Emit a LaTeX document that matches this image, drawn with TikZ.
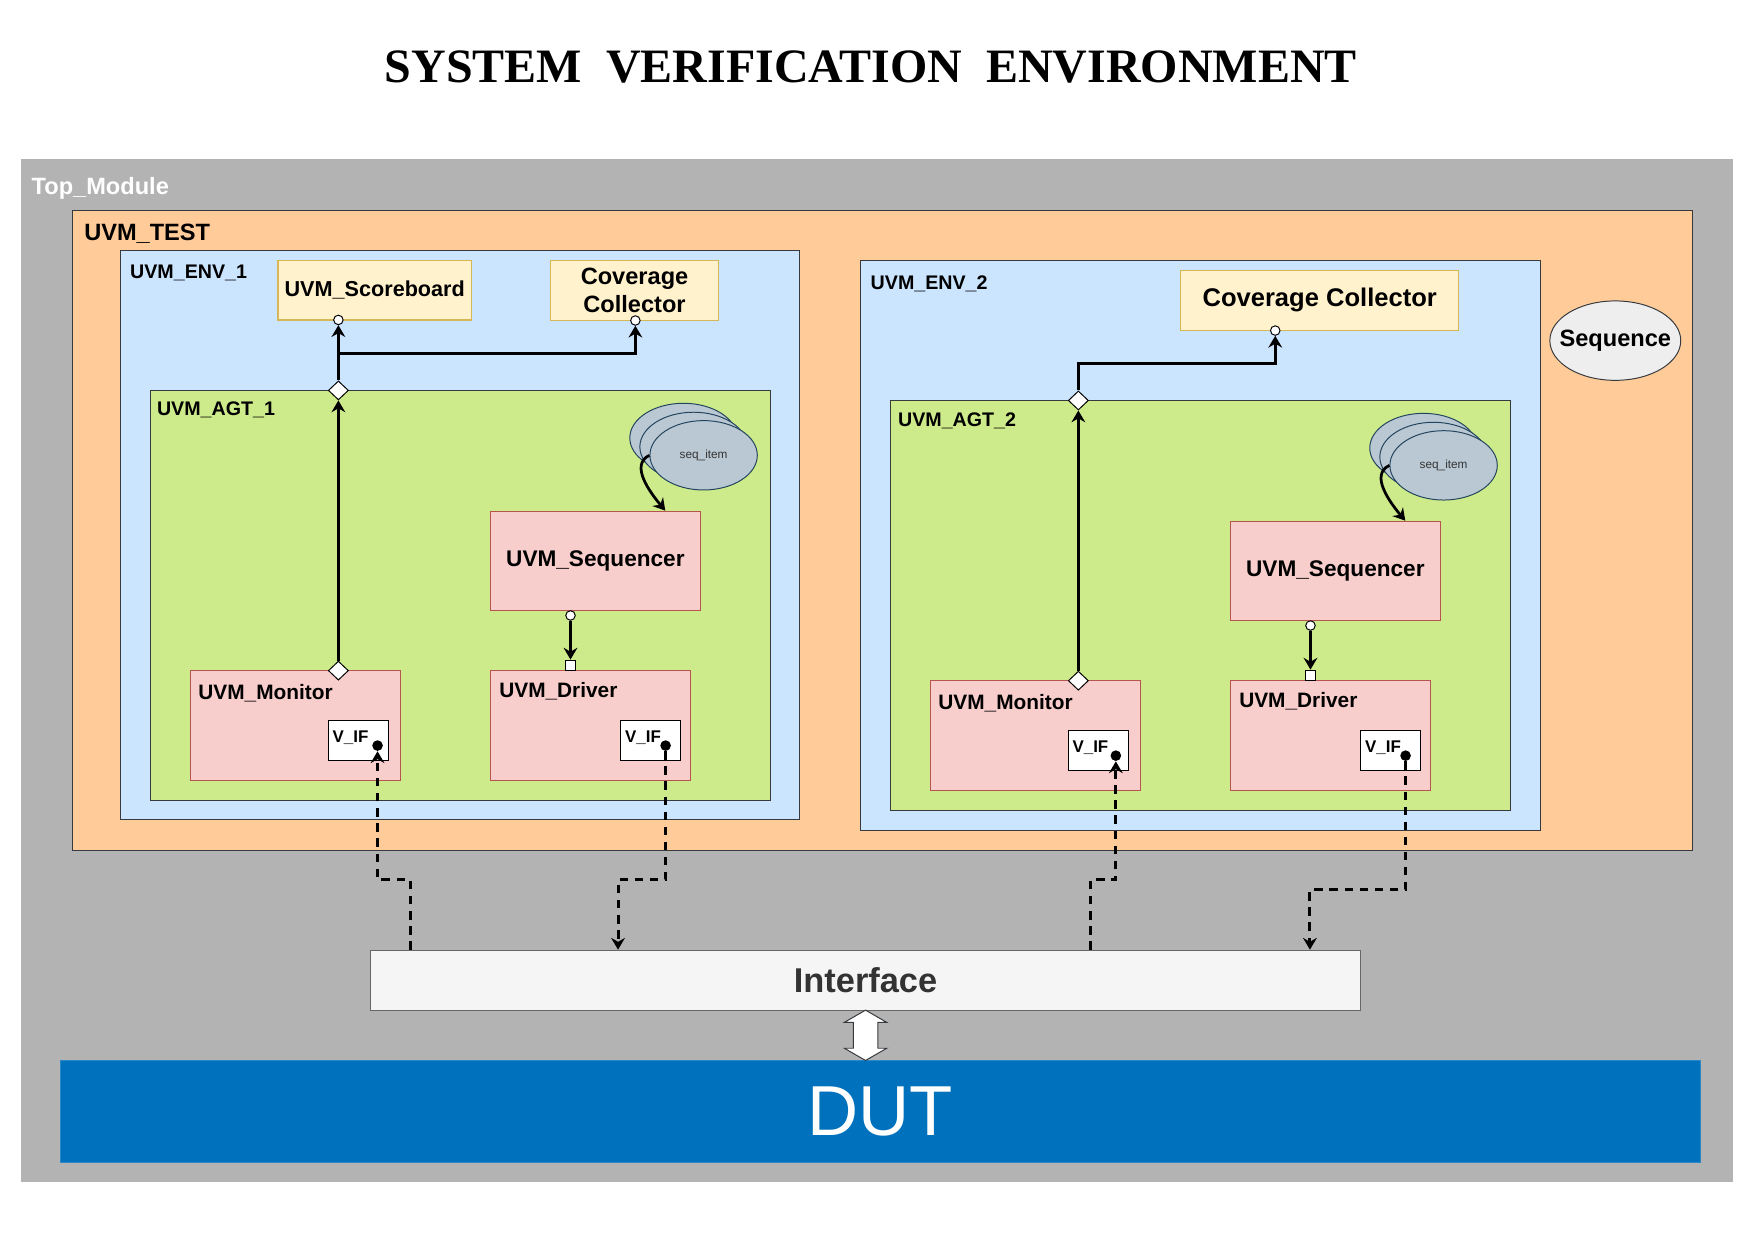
\documentclass[tikz,border=0pt]{standalone}
\usepackage{fontspec}
\setmainfont{Liberation Sans}
\newfontfamily\titlefont{Liberation Serif}
\usepackage{xcolor}
\usepackage{tikz}
\definecolor{topgray}{HTML}{B3B3B3}
\definecolor{testorange}{HTML}{FFCC99}
\definecolor{envblue}{HTML}{CCE5FF}
\definecolor{agtgreen}{HTML}{CDEB8B}
\definecolor{compfill}{HTML}{FFF2CC}
\definecolor{compline}{HTML}{D6B656}
\definecolor{uvmfill}{HTML}{F8CECC}
\definecolor{uvmline}{HTML}{B85450}
\definecolor{itemfill}{HTML}{BAC8D3}
\definecolor{itemline}{HTML}{23445D}
\definecolor{seqfill}{HTML}{EEEEEE}
\definecolor{frameline}{HTML}{36393D}
\definecolor{itffill}{HTML}{F5F5F5}
\definecolor{itfline}{HTML}{666666}
\definecolor{itftext}{HTML}{333333}
\definecolor{dutblue}{HTML}{0071BC}
\definecolor{dutline}{HTML}{2A88C8}
\usetikzlibrary{shapes.geometric, shapes.arrows, arrows.meta, calc}

\begin{document}
\begin{tikzpicture}[
    cont/.style={rectangle, draw=frameline, line width=0.5pt},
    comp/.style={rectangle, draw=compline, fill=compfill, line width=0.6pt, align=center, font=\bfseries\fontsize{11}{14}\selectfont},
    uvmbox/.style={rectangle, draw=uvmline, fill=uvmfill, line width=0.6pt, align=center},
    lbl/.style={anchor=west, inner sep=0pt, font=\bfseries\fontsize{10}{12}\selectfont},
    item/.style={ellipse, draw=itemline, fill=itemfill, line width=0.5pt, minimum width=1.92cm, minimum height=1.24cm},
    vif/.style={rectangle, draw=black, fill=white, line width=0.5pt, minimum width=1.08cm, minimum height=0.72cm},
    port/.style={circle, draw=black, fill=white, line width=0.5pt, inner sep=0pt, minimum size=0.17cm},
    vdot/.style={circle, fill=black, inner sep=0pt, minimum size=0.19cm},
    joint/.style={diamond, draw=black, fill=white, line width=0.5pt, inner sep=0pt, minimum width=0.36cm, minimum height=0.34cm},
    sq/.style={rectangle, draw=black, fill=white, line width=0.5pt, inner sep=0pt, minimum size=0.18cm},
    arrow/.style={-{Stealth[length=6pt, width=7pt, inset=2pt]}, line width=1.5pt},
    ifline/.style={-{Stealth[length=6pt, width=7pt, inset=2pt]}, line width=1.5pt, dash pattern=on 0.15cm off 0.12cm}
]
    \useasboundingbox (0,0) rectangle (31.36,-22.16);

    \node[font=\titlefont\bfseries\fontsize{24.4}{28}\selectfont] (title) at (15.57,-1.19) {SYSTEM\ \ VERIFICATION\ \ ENVIRONMENT};

    % containers
    \node[cont, draw=topgray, fill=topgray, minimum width=30.60cm, minimum height=18.26cm] (top) at (15.68,-11.99) {};
    \node[lbl, text=white, font=\bfseries\fontsize{12}{14}\selectfont] (toplbl) at (0.56,-3.37) {Top\_Module};
    \node[cont, fill=testorange, minimum width=28.96cm, minimum height=11.44cm] (test) at (15.78,-9.48) {};
    \node[lbl, font=\bfseries\fontsize{12}{14}\selectfont] (testlbl) at (1.50,-4.18) {UVM\_TEST};

    % environment 1
    \node[cont, fill=envblue, minimum width=12.14cm, minimum height=10.18cm] (env1) at (8.23,-9.57) {};
    \node[lbl] (env1lbl) at (2.32,-4.88) {UVM\_ENV\_1};
    \node[comp, minimum width=3.40cm, minimum height=1.06cm] (sb) at (6.70,-5.19) {UVM\_Scoreboard};
    \node[comp, minimum width=3.01cm, minimum height=1.07cm, font=\bfseries\fontsize{12}{14.5}\selectfont] (cov1) at (11.345,-5.195) {Coverage\\Collector};
    \node[cont, fill=agtgreen, minimum width=11.09cm, minimum height=7.33cm] (agt1) at (8.235,-10.645) {};
    \node[lbl] (agt1lbl) at (2.80,-7.32) {UVM\_AGT\_1};
    \node[item] (it1a) at (12.22,-7.83) {};
    \node[item] (it1b) at (12.40,-7.99) {};
    \node[item, text=itftext, font=\fontsize{6}{7}\selectfont] (it1) at (12.58,-8.14) {seq\_item};
    \node[uvmbox, minimum width=3.75cm, minimum height=1.77cm, font=\bfseries\fontsize{11.5}{14}\selectfont] (seqr1) at (10.645,-10.025) {UVM\_Sequencer};
    \node[uvmbox, minimum width=3.76cm, minimum height=1.97cm] (mon1) at (5.28,-12.975) {};
    \node[lbl, font=\bfseries\fontsize{10.6}{12}\selectfont] (mon1lbl) at (3.54,-12.39) {UVM\_Monitor};
    \node[uvmbox, minimum width=3.58cm, minimum height=1.97cm] (drv1) at (10.56,-12.975) {};
    \node[lbl, font=\bfseries\fontsize{10.6}{12}\selectfont] (drv1lbl) at (8.92,-12.36) {UVM\_Driver};
    \node[vif] (vifm1) at (6.41,-13.24) {};
    \node[lbl, font=\bfseries\fontsize{8.6}{10}\selectfont] (vifm1lbl) at (5.94,-13.19) {V\_IF};
    \node[vdot] (dm1) at (6.75,-13.33) {};
    \node[vif] (vifd1) at (11.635,-13.24) {};
    \node[lbl, font=\bfseries\fontsize{8.6}{10}\selectfont] (vifd1lbl) at (11.17,-13.19) {V\_IF};
    \node[vdot] (dd1) at (11.90,-13.33) {};
    \node[port] (sbp) at (6.05,-5.72) {};
    \node[port] (cp1) at (11.36,-5.73) {};
    \node[joint] (ja1) at (6.05,-6.98) {};
    \node[joint] (jm1) at (6.05,-11.99) {};
    \node[port, anchor=north] (sp1) at (10.20,-10.91) {};
    \node[sq, anchor=south] (dq1) at (10.20,-11.99) {};

    \coordinate (br1) at (11.36,-6.32);
    \draw[arrow] (jm1) -- (ja1);
    \draw[arrow] (ja1) -- (sbp);
    \draw[arrow] (ja1) |- (br1) -- (cp1);
    \draw[arrow] (sp1) -- (dq1);
    \draw[arrow, line width=1.4pt] (it1.west) to[out=205, in=130] ($(seqr1.north)+(1.25,0)$);

    % environment 2
    \node[cont, fill=envblue, minimum width=12.17cm, minimum height=10.19cm] (env2) at (21.465,-9.755) {};
    \node[lbl] (env2lbl) at (15.56,-5.08) {UVM\_ENV\_2};
    \node[comp, minimum width=4.97cm, minimum height=1.08cm, font=\bfseries\fontsize{13}{15}\selectfont] (cov2) at (23.595,-5.37) {Coverage Collector};
    \node[cont, fill=agtgreen, minimum width=11.08cm, minimum height=7.33cm] (agt2) at (21.46,-10.825) {};
    \node[lbl] (agt2lbl) at (16.05,-7.52) {UVM\_AGT\_2};
    \node[item] (it2a) at (25.45,-8.01) {};
    \node[item] (it2b) at (25.63,-8.17) {};
    \node[item, text=itftext, font=\fontsize{6}{7}\selectfont] (it2) at (25.81,-8.32) {seq\_item};
    \node[uvmbox, minimum width=3.75cm, minimum height=1.77cm, font=\bfseries\fontsize{11.5}{14}\selectfont] (seqr2) at (23.875,-10.205) {UVM\_Sequencer};
    \node[uvmbox, minimum width=3.76cm, minimum height=1.97cm] (mon2) at (18.51,-13.155) {};
    \node[lbl, font=\bfseries\fontsize{10.6}{12}\selectfont] (mon2lbl) at (16.77,-12.57) {UVM\_Monitor};
    \node[uvmbox, minimum width=3.58cm, minimum height=1.97cm] (drv2) at (23.79,-13.155) {};
    \node[lbl, font=\bfseries\fontsize{10.6}{12}\selectfont] (drv2lbl) at (22.15,-12.54) {UVM\_Driver};
    \node[vif] (vifm2) at (19.64,-13.42) {};
    \node[lbl, font=\bfseries\fontsize{8.6}{10}\selectfont] (vifm2lbl) at (19.17,-13.37) {V\_IF};
    \node[vdot] (dm2) at (19.95,-13.51) {};
    \node[vif] (vifd2) at (24.865,-13.42) {};
    \node[lbl, font=\bfseries\fontsize{8.6}{10}\selectfont] (vifd2lbl) at (24.40,-13.37) {V\_IF};
    \node[vdot] (dd2) at (25.13,-13.51) {};
    \node[port] (cp2) at (22.80,-5.91) {};
    \node[joint] (ja2) at (19.28,-7.16) {};
    \node[joint] (jm2) at (19.28,-12.17) {};
    \node[port, anchor=north] (sp2) at (23.43,-11.09) {};
    \node[sq, anchor=south] (dq2) at (23.43,-12.17) {};

    \coordinate (br2) at (22.80,-6.50);
    \draw[arrow] (jm2) -- (ja2);
    \draw[arrow] (ja2) |- (br2) -- (cp2);
    \draw[arrow] (sp2) -- (dq2);
    \draw[arrow, line width=1.4pt] (it2.west) to[out=205, in=130] ($(seqr2.north)+(1.25,0)$);

    \node[ellipse, draw=frameline, fill=seqfill, line width=0.5pt, inner sep=0pt, minimum width=2.34cm, minimum height=1.42cm, font=\bfseries\fontsize{12}{14}\selectfont] (seq) at (28.88,-6.09) {\makebox[0pt]{Sequence}};

    % interface and DUT
    \node[rectangle, draw=itfline, fill=itffill, line width=0.6pt, minimum width=17.71cm, minimum height=1.07cm, text=itftext, font=\bfseries\fontsize{17.5}{20}\selectfont] (itf) at (15.475,-17.525) {Interface};
    \node[rectangle, draw=dutline, fill=dutblue, line width=0.6pt, minimum width=29.32cm, minimum height=1.82cm, text=white, font=\fontsize{36}{40}\selectfont] (dut) at (15.74,-19.87) {DUT};
    \node[double arrow, draw=frameline, fill=white, line width=0.5pt, rotate=90, minimum height=0.9cm, inner xsep=0pt, inner ysep=0.21cm, double arrow head extend=0.16cm, double arrow tip angle=120] (link) at ($(itf.south)!0.5!(itf.south |- dut.north)$) {};

    \coordinate (j1) at (7.34,-15.73);
    \coordinate (j2) at (11.05,-15.73);
    \coordinate (j3) at (19.50,-15.73);
    \coordinate (j4) at (23.42,-15.91);
    \draw[ifline] (itf.north -| j1) -- (j1) -| (dm1);
    \draw[ifline] (dd1) |- (j2) -- (itf.north -| j2);
    \draw[ifline] (itf.north -| j3) -- (j3) -| (dm2);
    \draw[ifline] (dd2) |- (j4) -- (itf.north -| j4);
\end{tikzpicture}
\end{document}
